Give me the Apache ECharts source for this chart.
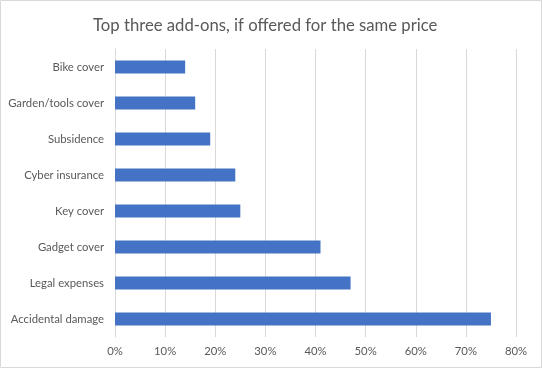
<!DOCTYPE html>
<html><head><meta charset="utf-8">
<script src="https://cdn.jsdelivr.net/npm/echarts@6/dist/echarts.min.js"></script>
<style>html,body{margin:0;padding:0;background:#fff}#c{width:542px;height:368px}</style>
</head><body><div id="c"></div>
<script>
const categories = ["Accidental damage","Legal expenses","Gadget cover","Key cover","Cyber insurance","Subsidence","Garden/tools cover","Bike cover"];
const values = [75, 47, 41, 25, 24, 19, 16, 14];
const titleText = "Top three add-ons, if offered for the same price";
const FONT = "Lato";
const chart = echarts.init(document.getElementById('c'), null, {renderer:'canvas'});
chart.setOption({
  animation:false,
  backgroundColor:'#fff',
  title:{text:titleText,left:88,top:12,textStyle:{fontFamily:FONT,fontSize:16.7,fontWeight:'normal',color:'#595959'}},
  graphic:[{type:'rect',shape:{x:0.5,y:0.5,width:541,height:367},style:{fill:'none',stroke:'#d9d9d9',lineWidth:1},silent:true,z:100}],
  grid:{left:115,right:26,top:49,bottom:31,containLabel:false},
  xAxis:{type:'value',min:0,max:80,interval:10,
    axisLabel:{formatter:'{value}%',color:'#595959',fontFamily:FONT,fontSize:11.3,margin:9},
    splitLine:{lineStyle:{color:'#d9d9d9',width:1}},axisLine:{show:false},axisTick:{show:false}},
  yAxis:{type:'category',data:categories,
    axisLabel:{color:'#595959',fontFamily:FONT,fontSize:11.3,margin:11},
    axisLine:{show:true,lineStyle:{color:'#d9d9d9'}},axisTick:{show:false}},
  series:[{type:'bar',data:values,barWidth:13,itemStyle:{color:'#4472c4'}}]
});
</script></body></html>
